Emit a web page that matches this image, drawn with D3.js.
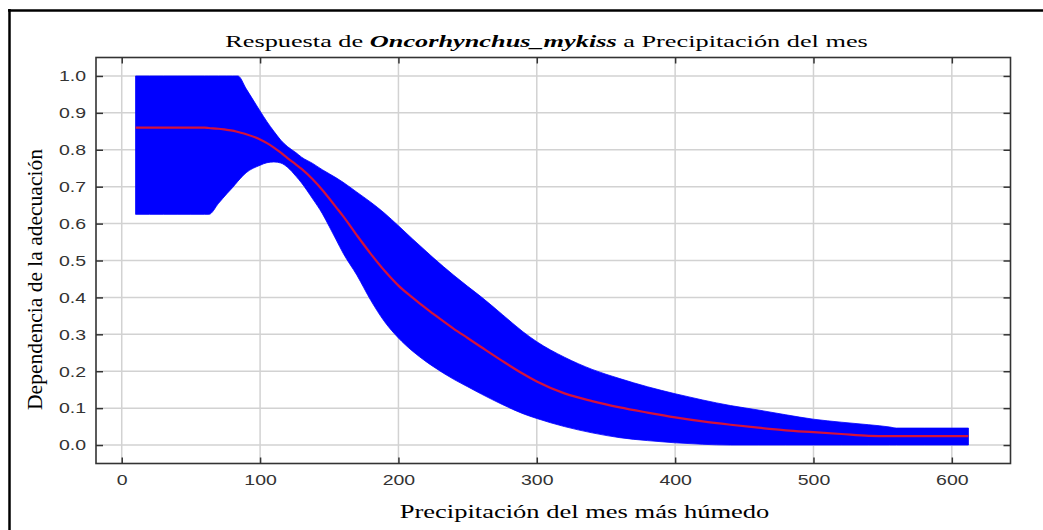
<!DOCTYPE html>
<html><head><meta charset="utf-8">
<script src="https://cdn.jsdelivr.net/npm/d3@7"></script>
<style>
html,body{margin:0;padding:0;background:#fff;}
svg{display:block;}
</style></head>
<body>
<svg id="chart" width="1043" height="530"></svg>
<script>
// ---- data ----
const precip = [10,20,30,40,50,60,63,70,76,80,84,90,100,105,110,115,120,126,130,138,145,150,155,160,170,180,190,200,210,220,225,240,250,260,275,290,300,320,340,360,380,400,420,440,460,480,500,520,540,555,560,580,600,612];
const upperBand = [1,1,1,1,1,1,1,1,1,1,1,0.965,0.905,0.876,0.85,0.826,0.808,0.792,0.78,0.763,0.746,0.735,0.724,0.712,0.685,0.658,0.628,0.594,0.559,0.525,0.508,0.46,0.43,0.401,0.354,0.307,0.28,0.238,0.205,0.18,0.158,0.139,0.122,0.107,0.095,0.082,0.07,0.062,0.055,0.049,0.046,0.046,0.046,0.046];
const lowerBand = [0.625,0.625,0.625,0.625,0.625,0.625,0.625,0.655,0.681,0.697,0.715,0.738,0.758,0.765,0.767,0.764,0.752,0.728,0.71,0.667,0.627,0.592,0.556,0.52,0.46,0.392,0.334,0.29,0.255,0.226,0.213,0.178,0.158,0.138,0.11,0.085,0.072,0.05,0.033,0.02,0.012,0.006,0.002,0,0,0,0,0,0,0,0,0,0,0];
const meanResp = [0.86,0.86,0.86,0.86,0.86,0.86,0.859,0.857,0.854,0.852,0.848,0.842,0.828,0.818,0.806,0.792,0.777,0.76,0.748,0.72,0.691,0.668,0.644,0.62,0.568,0.518,0.472,0.432,0.40,0.37,0.356,0.315,0.29,0.265,0.228,0.193,0.172,0.14,0.119,0.102,0.088,0.075,0.064,0.055,0.047,0.04,0.035,0.03,0.025,0.024,0.024,0.024,0.024,0.024];
const xTicks = [0,100,200,300,400,500,600];
const yTicks = [0,0.1,0.2,0.3,0.4,0.5,0.6,0.7,0.8,0.9,1.0];
const titlePre = "Respuesta de ";
const titleSpecies = "Oncorhynchus_mykiss";
const titlePost = " a Precipitación del mes";
const xLabel = "Precipitación del mes más húmedo";
const yLabel = "Dependencia de la adecuación";

// ---- layout ----
const plot = {left:96, right:1010.5, top:57.5, bottom:463.5};
const svg = d3.select("#chart");
const x = d3.scaleLinear().domain([-18.6, 642.4]).range([plot.left, plot.right]);
const y = d3.scaleLinear().domain([-0.05, 1.05]).range([plot.bottom, plot.top]);
const TS = 1.3; // horizontal stretch of the reference text

// outer partial frame
svg.append("line").attr("x1",8).attr("x2",1043).attr("y1",10.5).attr("y2",10.5).attr("stroke","#000").attr("stroke-width",2.5);
svg.append("line").attr("x1",9.5).attr("x2",9.5).attr("y1",9).attr("y2",530).attr("stroke","#000").attr("stroke-width",2.5);

// grid
const grid = svg.append("g").attr("stroke","#d2d2d2").attr("stroke-width",1.5);
grid.selectAll("line.v").data(xTicks).join("line").attr("class","v")
  .attr("x1",d=>x(d)).attr("x2",d=>x(d)).attr("y1",plot.top).attr("y2",plot.bottom);
grid.selectAll("line.h").data(yTicks).join("line").attr("class","h")
  .attr("y1",d=>y(d)).attr("y2",d=>y(d)).attr("x1",plot.left).attr("x2",plot.right);

// band
const pts = precip.map((p,i)=>({p, lo:lowerBand[i], hi:upperBand[i], m:meanResp[i]}));
svg.append("path").datum(pts)
  .attr("fill","#0000ff").attr("stroke","#0000ff").attr("stroke-width",0.8)
  .attr("d", d3.area().curve(d3.curveMonotoneX).x(d=>x(d.p)).y0(d=>y(d.lo)).y1(d=>y(d.hi)));
svg.append("path").datum(pts)
  .attr("fill","none").attr("stroke","#d4123a").attr("stroke-width",2.2)
  .attr("d", d3.line().curve(d3.curveMonotoneX).x(d=>x(d.p)).y(d=>y(d.m)));

// axes
const fmtY = d3.format(".1f");
const gL = svg.append("g").attr("transform",`translate(${plot.left},0)`)
  .call(d3.axisLeft(y).tickValues(yTicks).tickFormat(fmtY).tickSize(-7).tickPadding(10/TS));
const gB = svg.append("g").attr("transform",`translate(0,${plot.bottom})`)
  .call(d3.axisBottom(x).tickValues(xTicks).tickSize(-6).tickPadding(11));
const gT = svg.append("g").attr("transform",`translate(0,${plot.top})`)
  .call(d3.axisTop(x).tickValues(xTicks).tickFormat("").tickSize(-6));
const gR = svg.append("g").attr("transform",`translate(${plot.right},0)`)
  .call(d3.axisRight(y).tickValues(yTicks).tickFormat("").tickSize(-7));
[gL,gB,gT,gR].forEach(g=>{
  g.select(".domain").remove();
  g.selectAll(".tick line").attr("stroke","#333").attr("stroke-width",1.5);
  g.selectAll(".tick text").attr("fill","#333")
   .style("font-family","'Liberation Sans', Arial, sans-serif").style("font-size","15px")
   .attr("transform",`scale(${TS},1)`);
});

// plot border
svg.append("rect").attr("x",plot.left).attr("y",plot.top)
  .attr("width",plot.right-plot.left).attr("height",plot.bottom-plot.top)
  .attr("fill","none").attr("stroke","#333").attr("stroke-width",1.6);

// stretched text helper
function stretchedText(cx, cy, rot, targetW, size, build){
  const g = svg.append("g");
  const t = g.append("text").attr("text-anchor","middle")
    .style("font-family","'Liberation Serif','Times New Roman',serif")
    .style("font-size",size+"px").attr("fill","#000");
  build(t);
  const w = t.node().getComputedTextLength();
  g.attr("transform",`translate(${cx},${cy}) rotate(${rot}) scale(${targetW/w},1)`);
}
stretchedText(546.5, 46.5, 0, 643, 17.5, t=>{
  t.append("tspan").text(titlePre);
  t.append("tspan").style("font-weight","bold").style("font-style","italic").text(titleSpecies);
  t.append("tspan").text(titlePost);
});
stretchedText(584.5, 517.5, 0, 370, 19, t=>t.text(xLabel));
stretchedText(42, 279.5, -90, 261, 20.5, t=>t.text(yLabel));
</script>
</body></html>
